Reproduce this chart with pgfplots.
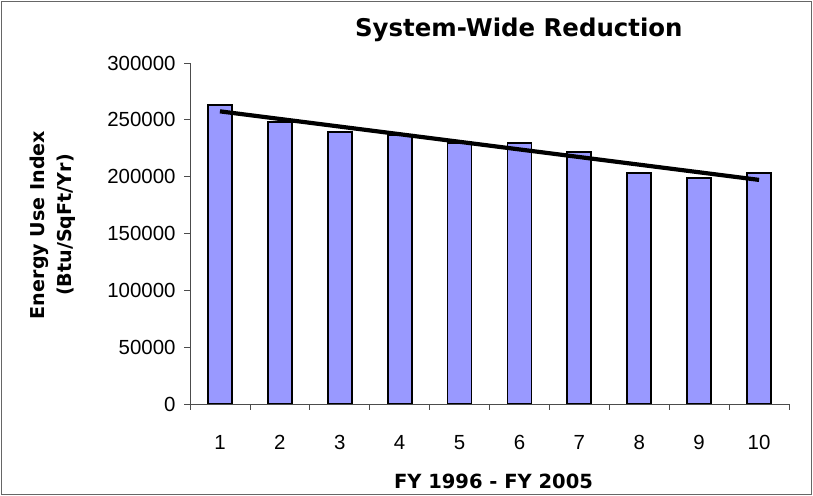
\documentclass[border=0pt]{standalone}
\usepackage{fontspec}
\setmainfont{Liberation Sans}
\newfontfamily\dejavu{DejaVu Sans}
\usepackage{pgfplots}
\pgfplotsset{compat=1.18}
\definecolor{barblue}{RGB}{153,153,255}
\begin{document}
\begin{tikzpicture}[x=1bp,y=1bp]
\useasboundingbox (0,0) rectangle (813,496);
\draw[line width=1bp, black!60] (1.5,1.5) rectangle (811.5,494.5);
\begin{axis}[
  at={(190bp,92bp)}, anchor=south west,
  scale only axis, width=599bp, height=341bp,
  xmin=0.5, xmax=10.5, ymin=0, ymax=300000,
  axis lines=left, axis line style={-, line width=0.8bp, black!70},
  xtick={1,2,3,4,5,6,7,8,9,10},
  xticklabels={1,2,3,4,5,6,7,8,9,10},
  major x tick style={draw=none},
  minor xtick={0.5,1.5,2.5,3.5,4.5,5.5,6.5,7.5,8.5,9.5,10.5},
  minor tick length=6bp, major tick length=6bp,
  every tick/.style={black!70, line width=0.8bp},
  tick align=outside,
  ytick={0,50000,100000,150000,200000,250000,300000},
  yticklabels={0,50000,100000,150000,200000,250000,300000},
  scaled y ticks=false,
  tick label style={font=\fontsize{20.5}{22}\selectfont},
  xticklabel style={yshift=-22bp},
  yticklabel style={xshift=-5bp},
  title={\dejavu\bfseries System-Wide Reduction},
  title style={font=\fontsize{24.5}{28}\selectfont, at={(rel axis cs:0.549,1.079)}, anchor=center},
  ylabel={\dejavu\bfseries Energy Use Index\\\dejavu\bfseries (Btu/SqFt/Yr)},
  ylabel style={font=\fontsize{19.2}{27}\selectfont, align=center, at={(rel axis cs:-0.2298,0.525)}, anchor=center},
  xlabel={\dejavu\bfseries FY 1996 - FY 2005},
  xlabel style={font=\fontsize{19.6}{22}\selectfont, at={(rel axis cs:0.5067,-0.227)}, anchor=center},
]
\addplot[ybar, bar width=0.4, fill=barblue, draw=black, line width=1.8bp]
  coordinates {(1,263050) (2,247800) (3,239300) (4,236900) (5,229400)
               (6,229600) (7,221400) (8,203500) (9,198600) (10,203500)};
\addplot[black, line width=4.2bp] coordinates {(1,257460) (10,197150)};
\end{axis}
\end{tikzpicture}
\end{document}
